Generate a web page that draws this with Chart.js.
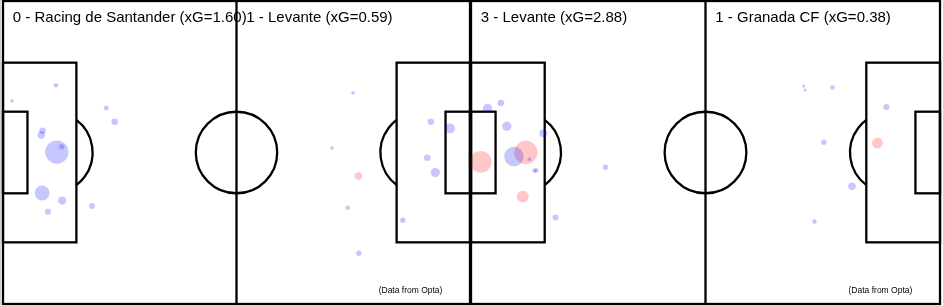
<!DOCTYPE html>
<html>
<head>
<meta charset="utf-8">
<script src="https://cdn.jsdelivr.net/npm/chart.js@4.4.1/dist/chart.umd.min.js"></script>
<style>
    html, body { margin: 0; padding: 0; background: #fff; }
    #wrap { position: relative; width: 943px; height: 306px; overflow: hidden; }
    canvas { position: absolute; top: 0; }
    #p1 { left: 0; }
    #p2 { left: 471px; }
    #edge { position: absolute; left: 0; top: 0; width: 1px; height: 306px; background: #d2d2d2; }
</style>
</head>
<body>
<div id="wrap">
    <canvas id="p1" width="471" height="306"></canvas>
    <canvas id="p2" width="472" height="306"></canvas>
    <div id="edge"></div>
</div>
<script>
// Shots: [x (m from left goal line), y (m from top touchline), xG, goal 1/0]
const racingShots = [
    [11.9, 18.9, 0.03, 0],
    [2.0, 22.4, 0.02, 0],
    [23.2, 24.0, 0.035, 0],
    [25.1, 27.1, 0.06, 0],
    [8.9, 29.1, 0.06, 0],
    [8.6, 30.1, 0.08, 0],
    [12.1, 33.9, 0.76, 0],
    [13.2, 32.7, 0.04, 0],
    [8.8, 43.1, 0.31, 0],
    [13.3, 44.8, 0.09, 0],
    [10.1, 47.3, 0.05, 0],
    [20.0, 46.0, 0.05, 0]
];
const levanteAwayShots = [
    [78.7, 20.6, 0.02, 0],
    [74.0, 33.0, 0.02, 0],
    [79.9, 39.3, 0.08, 1],
    [77.5, 46.4, 0.03, 0],
    [80.0, 56.6, 0.04, 0],
    [96.2, 27.1, 0.06, 0],
    [100.5, 28.6, 0.14, 0],
    [95.4, 35.2, 0.06, 0],
    [97.2, 38.5, 0.12, 0],
    [89.9, 49.2, 0.04, 0]
];
const levanteHomeShots = [
    [3.7, 24.1, 0.12, 0],
    [6.7, 22.9, 0.06, 0],
    [8.0, 28.1, 0.12, 0],
    [16.2, 29.7, 0.09, 0],
    [2.2, 36.1, 0.65, 1],
    [9.6, 34.9, 0.53, 0],
    [12.3, 34.0, 0.76, 1],
    [13.1, 35.5, 0.02, 0],
    [14.2, 38.1, 0.03, 0],
    [14.6, 38.0, 0.03, 0],
    [11.6, 43.9, 0.20, 1],
    [30.1, 37.3, 0.04, 0],
    [18.9, 48.6, 0.05, 0]
];
const granadaShots = [
    [74.5, 19.1, 0.015, 0],
    [74.8, 20.0, 0.015, 0],
    [80.9, 19.4, 0.03, 0],
    [93.0, 23.8, 0.05, 0],
    [91.0, 31.9, 0.16, 1],
    [79.0, 31.7, 0.04, 0],
    [85.3, 41.6, 0.08, 0],
    [76.9, 49.5, 0.03, 0]
];

const match1Titles = ['0 - Racing de Santander (xG=1.60)', '1 - Levante (xG=0.59)'];
const match2Titles = ['3 - Levante (xG=2.88)', '1 - Granada CF (xG=0.38)'];
const sourceNote = '(Data from Opta)';

const PITCH_LEN = 105;
const PITCH_WID = 68;

// bubble area proportional to xG
function xgRadius(xg) {
    return Math.sqrt(xg * 179);
}

function toPoints(shots, goal) {
    return shots.filter(s => s[3] === goal).map(s => ({ x: s[0], y: s[1], r: xgRadius(s[2]) }));
}

// pitch markings + titles
const pitchPlugin = {
    id: 'pitch',
    beforeDatasetsDraw(chart) {
        const { ctx, scales: { x, y } } = chart;
        const px = v => x.getPixelForValue(v);
        const py = v => y.getPixelForValue(v);
        const sx = px(1) - px(0);
        const sy = py(1) - py(0);
        const rect = (x0, y0, x1, y1) => ctx.strokeRect(px(x0), py(y0), px(x1) - px(x0), py(y1) - py(y0));

        ctx.save();
        ctx.strokeStyle = '#000';
        ctx.lineWidth = 2.3;
        rect(0, 0, PITCH_LEN, PITCH_WID);

        ctx.beginPath();
        ctx.moveTo(px(PITCH_LEN / 2), py(0));
        ctx.lineTo(px(PITCH_LEN / 2), py(PITCH_WID));
        ctx.stroke();

        // penalty and goal areas
        rect(0, 34 - 20.16, 16.5, 34 + 20.16);
        rect(PITCH_LEN - 16.5, 34 - 20.16, PITCH_LEN, 34 + 20.16);
        rect(0, 34 - 9.16, 5.5, 34 + 9.16);
        rect(PITCH_LEN - 5.5, 34 - 9.16, PITCH_LEN, 34 + 9.16);

        // centre circle
        ctx.beginPath();
        ctx.ellipse(px(PITCH_LEN / 2), py(34), 9.15 * sx, 9.15 * sy, 0, 0, Math.PI * 2);
        ctx.stroke();

        // penalty arcs
        const t = Math.acos(5.5 / 9.15);
        ctx.beginPath();
        ctx.ellipse(px(11), py(34), 9.15 * sx, 9.15 * sy, 0, -t, t);
        ctx.stroke();
        ctx.beginPath();
        ctx.ellipse(px(PITCH_LEN - 11), py(34), 9.15 * sx, 9.15 * sy, 0, Math.PI - t, Math.PI + t);
        ctx.stroke();
        ctx.restore();
    },
    afterDraw(chart, args, opts) {
        const { ctx, scales: { x, y } } = chart;
        ctx.save();
        ctx.fillStyle = '#000';
        ctx.font = '15px "Liberation Sans", Arial, sans-serif';
        ctx.textBaseline = 'alphabetic';
        ctx.textAlign = 'left';
        ctx.fillText(opts.titles[0], x.getPixelForValue(2.2), 22);
        ctx.fillText(opts.titles[1], x.getPixelForValue(54.7), 22);

        ctx.font = '8.5px "Liberation Sans", Arial, sans-serif';
        ctx.textAlign = 'right';
        ctx.textBaseline = 'middle';
        ctx.fillText(sourceNote, x.getPixelForValue(98.8), y.getPixelForValue(64.9));
        ctx.restore();
    }
};

function makePitch(canvasId, homeShots, awayShots, titles, padding) {
    const allShots = homeShots.concat(awayShots);
    return new Chart(document.getElementById(canvasId), {
        type: 'bubble',
        data: {
            datasets: [{
                label: 'Shots',
                data: toPoints(allShots, 0),
                backgroundColor: 'rgba(0, 0, 255, 0.22)',
                borderWidth: 0,
                clip: false
            }, {
                label: 'Goals',
                data: toPoints(allShots, 1),
                backgroundColor: 'rgba(255, 0, 0, 0.22)',
                borderWidth: 0,
                clip: false
            }]
        },
        options: {
            responsive: false,
            animation: false,
            devicePixelRatio: 1,
            events: [],
            layout: { padding: padding, autoPadding: false },
            plugins: {
                legend: { display: false },
                tooltip: { enabled: false },
                pitch: { titles: titles }
            },
            scales: {
                x: { type: 'linear', min: 0, max: PITCH_LEN, display: false },
                y: { type: 'linear', min: 0, max: PITCH_WID, reverse: true, display: false }
            }
        },
        plugins: [pitchPlugin]
    });
}

makePitch('p1', racingShots, levanteAwayShots, match1Titles, { left: 3, right: 1, top: 1, bottom: 2 });
makePitch('p2', levanteHomeShots, granadaShots, match2Titles, { left: 0, right: 3, top: 1, bottom: 2 });
</script>
</body>
</html>
